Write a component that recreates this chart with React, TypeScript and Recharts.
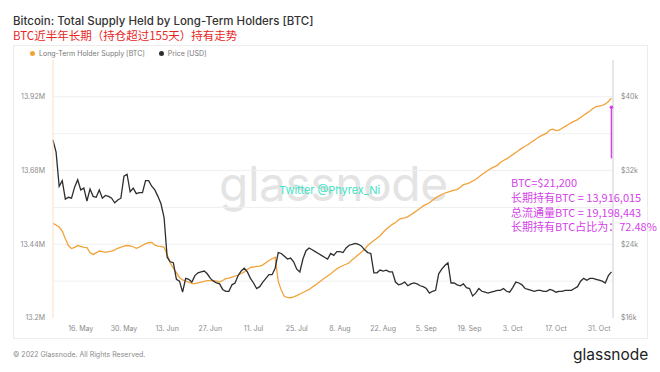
import React from 'react';
import { LineChart, Line, XAxis, YAxis, ReferenceLine, ReferenceDot } from 'recharts';

// daily values, 7 May 2022 -> 4 Nov 2022
const lthSupply = [
  13.508, 13.503, 13.496, 13.483, 13.458, 13.436, 13.426, 13.43, 13.436, 13.433,
  13.43, 13.429, 13.413, 13.407, 13.412, 13.418, 13.416, 13.414, 13.416, 13.418,
  13.422, 13.427, 13.431, 13.434, 13.436, 13.435, 13.432, 13.427, 13.431, 13.437,
  13.442, 13.445, 13.446, 13.437, 13.434, 13.433, 13.43, 13.406, 13.38, 13.362,
  13.348, 13.332, 13.324, 13.32, 13.317, 13.313, 13.312, 13.314, 13.317, 13.319,
  13.322, 13.322, 13.322, 13.32, 13.317, 13.322, 13.328, 13.33, 13.333, 13.336,
  13.34, 13.345, 13.35, 13.358, 13.365, 13.366, 13.368, 13.369, 13.373, 13.38,
  13.387, 13.393, 13.398, 13.32, 13.29, 13.27, 13.267, 13.266, 13.269, 13.273,
  13.278, 13.283, 13.288, 13.293, 13.3, 13.307, 13.315, 13.322, 13.33, 13.337,
  13.344, 13.352, 13.36, 13.366, 13.371, 13.375, 13.38, 13.39, 13.398, 13.407,
  13.415, 13.424, 13.436, 13.444, 13.452, 13.46, 13.468, 13.479, 13.489, 13.497,
  13.505, 13.511, 13.52, 13.524, 13.526, 13.53, 13.536, 13.543, 13.55, 13.557,
  13.565, 13.57, 13.575, 13.583, 13.591, 13.597, 13.602, 13.607, 13.61, 13.613,
  13.616, 13.618, 13.626, 13.634, 13.637, 13.64, 13.646, 13.651, 13.659, 13.667,
  13.674, 13.681, 13.687, 13.692, 13.697, 13.706, 13.713, 13.718, 13.725, 13.732,
  13.739, 13.746, 13.753, 13.759, 13.765, 13.772, 13.779, 13.786, 13.792, 13.797,
  13.802, 13.812, 13.815, 13.81, 13.812, 13.818, 13.824, 13.83, 13.836, 13.841,
  13.846, 13.853, 13.86, 13.867, 13.874, 13.882, 13.888, 13.89, 13.892, 13.897,
  13.904, 13.916,
];

// USD thousands
const priceK = [
  35.3, 34.0, 30.3, 30.9, 28.9, 29.1, 29.0, 30.2, 31.0, 29.9,
  30.1, 28.7, 30.0, 29.2, 29.1, 29.9, 29.0, 29.3, 29.2, 29.0,
  28.5, 28.8, 29.0, 31.4, 31.6, 29.7, 30.1, 29.5, 29.6, 29.6,
  30.9, 30.9, 30.3, 29.9, 29.2, 28.4, 26.9, 22.6, 22.1, 22.0,
  20.2, 20.0, 18.8, 20.3, 20.2, 19.9, 20.6, 20.9, 21.0, 21.1,
  20.8, 20.3, 20.0, 19.8, 19.7, 19.1, 18.9, 18.9, 19.6, 19.8,
  20.6, 21.1, 21.4, 21.0, 20.3, 19.8, 19.2, 19.4, 19.9, 20.3,
  20.7, 20.7, 21.4, 23.1, 23.0, 22.7, 22.4, 22.5, 22.1, 21.3,
  21.0, 22.4, 23.3, 23.6, 23.4, 23.2, 23.0, 22.8, 22.6, 22.4,
  23.0, 22.8, 23.2, 23.2, 23.1, 23.6, 23.9, 24.0, 24.1, 24.0,
  23.8, 23.4, 23.1, 23.0, 20.9, 20.9, 21.2, 21.1, 21.2, 21.0,
  21.0, 19.9, 19.6, 19.7, 19.9, 19.5, 19.7, 19.8, 19.7, 19.5,
  19.4, 19.2, 18.7, 18.9, 19.0, 20.8, 21.3, 21.7, 22.0, 19.8,
  19.8, 19.6, 19.5, 19.7, 19.3, 19.2, 18.4, 18.7, 19.2, 18.9,
  18.8, 18.7, 18.8, 18.9, 19.0, 19.0, 19.2, 18.9, 18.8, 19.3,
  19.9, 19.8, 19.6, 19.2, 19.1, 19.0, 18.9, 19.0, 19.0, 18.9,
  18.9, 19.1, 19.0, 18.8, 18.9, 18.9, 19.0, 19.0, 19.0, 19.2,
  19.4, 20.0, 20.3, 20.1, 20.3, 20.3, 20.2, 20.1, 20.0, 19.8,
  20.6, 21.0,
];

const tickDays = [9, 23, 37, 51, 65, 79, 93, 107, 121, 135, 149, 163, 177];
const tickLabels = ['16. May', '30. May', '13. Jun', '27. Jun', '11. Jul', '25. Jul', '8. Aug', '22. Aug', '5. Sep', '19. Sep', '3. Oct', '17. Oct', '31. Oct'];
const supplyTicks = [13.2, 13.44, 13.68, 13.92];
const supplyGrid = [13.32, 13.44, 13.56, 13.68, 13.8, 13.92];
const priceTicks = [16, 24, 32, 40];

const ORANGE = '#f2a23a';
const DARK = '#2e2e2e';
const MAGENTA = '#d43fe8';
const FONT = 'Inter, "Open Sans", sans-serif';
const CJK = '"Noto Sans CJK SC", sans-serif';

const rows = priceK.map((p, i) => ({ d: i, price: p, lth: lthSupply[i] }));

const note = [
  'BTC=$21,200',
  '长期持有BTC = 13,916,015',
  '总流通量BTC = 19,198,443',
  '长期持有BTC占比为：72.48%',
];

export default function App() {
  const tick = { fontSize: 7, fill: '#8a8a8a', fontFamily: FONT };
  return (
    <div style={{ position: 'absolute', left: 0, top: 0, width: 660, height: 372, background: '#fff', overflow: 'hidden', fontFamily: FONT }}>
      <div style={{ position: 'absolute', left: 13, top: 15, fontSize: 11.5, lineHeight: '13px', fontWeight: 500, color: '#333', whiteSpace: 'nowrap' }}>
        Bitcoin: Total Supply Held by Long-Term Holders [BTC]
      </div>
      <div style={{ position: 'absolute', left: 13, top: 29, fontSize: 11.5, lineHeight: '13px', color: '#e8261e', fontFamily: CJK, whiteSpace: 'nowrap' }}>
        BTC近半年长期（持仓超过155天）持有走势
      </div>
      <div style={{ position: 'absolute', left: 13, top: 45, width: 633, height: 292, border: '1px solid #ececec' }} />

      <div style={{ position: 'absolute', left: 30, top: 49, fontSize: 7, color: '#777', display: 'flex', alignItems: 'center', whiteSpace: 'nowrap' }}>
        <span style={{ width: 5, height: 5, borderRadius: 3, background: ORANGE, marginRight: 4 }} />
        Long-Term Holder Supply [BTC]
        <span style={{ width: 5, height: 5, borderRadius: 3, background: DARK, marginLeft: 14, marginRight: 4 }} />
        Price [USD]
      </div>

      <div style={{ position: 'absolute', left: 219, top: 156, fontSize: 48, lineHeight: '56px', color: '#e4e4e4', letterSpacing: -0.5, whiteSpace: 'nowrap' }}>
        glassnode
      </div>

      <div style={{ position: 'absolute', left: 0, top: 0 }}>
        <LineChart width={660} height={372} data={rows} margin={{ top: 60, right: 13, bottom: 34, left: 13 }}>
          {supplyGrid.map((v) => (
            <ReferenceLine key={v} yAxisId="lth" y={v} stroke="#efefef" strokeWidth={1} />
          ))}
          <XAxis
            type="number"
            dataKey="d"
            domain={[0, 181.5]}
            ticks={tickDays}
            tickFormatter={(v: number) => tickLabels[tickDays.indexOf(v)]}
            axisLine={false}
            tickLine={false}
            tick={tick}
            height={20}
            interval={0}
          />
          <YAxis
            yAxisId="lth"
            domain={[13.2, 14.04]}
            ticks={supplyTicks}
            tickFormatter={(v: number) => `${v}M`}
            width={40}
            axisLine={{ stroke: '#fbe0c4' }}
            tickLine={false}
            tick={tick}
            allowDataOverflow
          />
          <YAxis
            yAxisId="price"
            orientation="right"
            domain={[16, 44]}
            ticks={priceTicks}
            tickFormatter={(v: number) => `$${v}k`}
            width={34}
            axisLine={{ stroke: '#cfcfcf' }}
            tickLine={false}
            tick={tick}
            allowDataOverflow
          />
          <Line yAxisId="lth" dataKey="lth" stroke={ORANGE} strokeWidth={1.3} dot={false} isAnimationActive={false} />
          <Line yAxisId="price" dataKey="price" stroke={DARK} strokeWidth={1.3} dot={false} isAnimationActive={false} />
          <ReferenceLine
            yAxisId="lth"
            segment={[{ x: 181, y: 13.886 }, { x: 181, y: 13.72 }]}
            stroke={MAGENTA}
            strokeWidth={1.5}
          />
          <ReferenceDot yAxisId="lth" x={181} y={13.886} r={1.8} fill={MAGENTA} stroke="none" />
        </LineChart>
      </div>

      <div style={{ position: 'absolute', left: 279, top: 183, fontSize: 11, color: '#3fe3c6', whiteSpace: 'nowrap' }}>
        Twitter @Phyrex_Ni
      </div>

      <div style={{ position: 'absolute', left: 511, top: 175, fontSize: 11, lineHeight: '14.8px', color: MAGENTA, fontFamily: CJK, whiteSpace: 'nowrap' }}>
        {note.map((t) => (
          <div key={t}>{t}</div>
        ))}
      </div>

      <div style={{ position: 'absolute', left: 13, top: 350, fontSize: 7, color: '#8a8a8a', whiteSpace: 'nowrap' }}>
        © 2022 Glassnode. All Rights Reserved.
      </div>
      <div style={{ position: 'absolute', left: 573, top: 345, fontSize: 15.5, color: '#222', whiteSpace: 'nowrap' }}>
        glassnode
      </div>
    </div>
  );
}
